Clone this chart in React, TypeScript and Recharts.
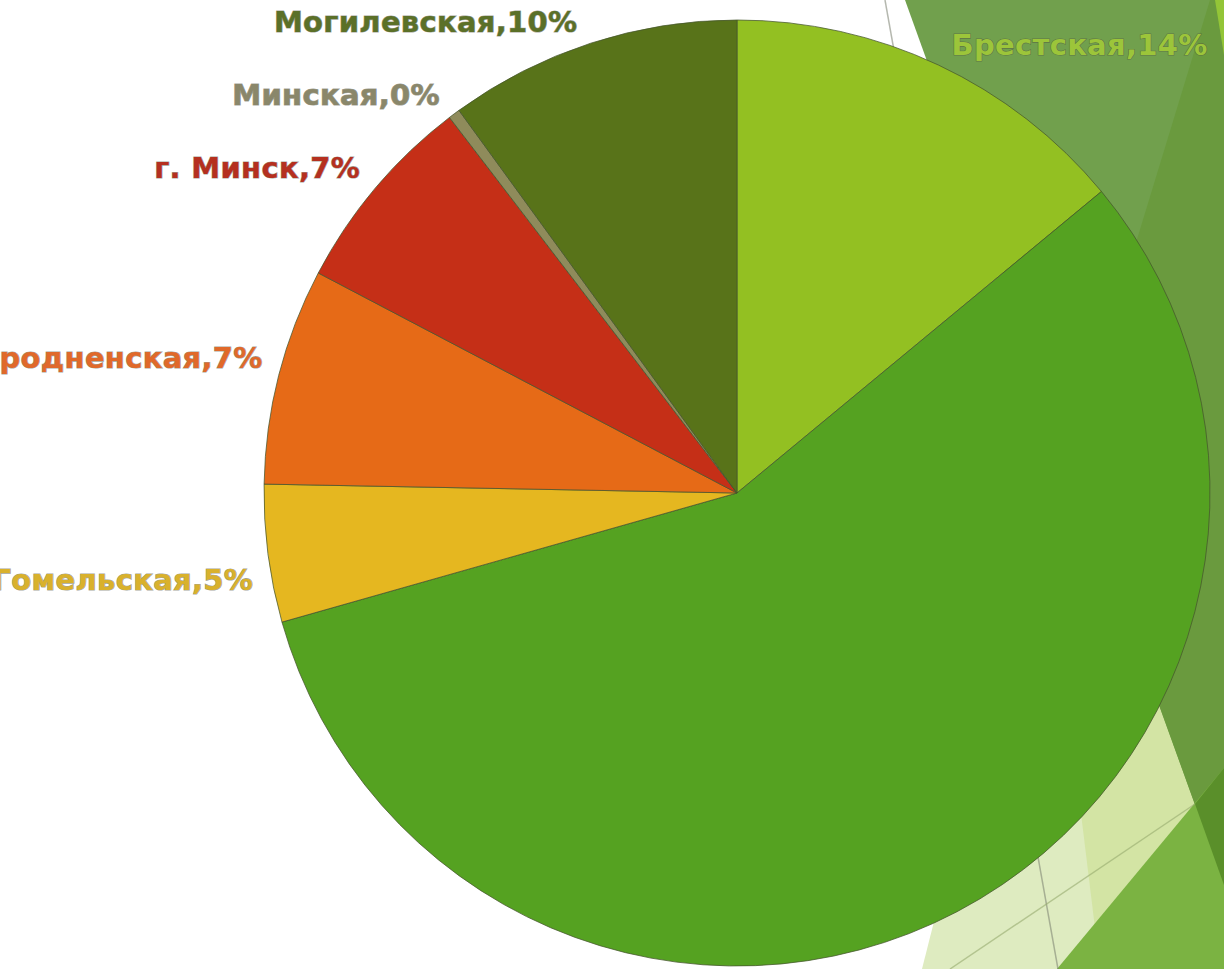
import React from 'react';
import { PieChart, Pie, Cell } from 'recharts';

const categories = ['Брестская', 'Витебская', 'Гомельская', 'Гродненская', 'г. Минск', 'Минская', 'Могилевская'];
const values = [14.0, 56.6, 4.7, 7.4, 6.9, 0.4, 10.0];
const hiddenLabels = ['Витебская'];

const sliceColors = ['#93C022', '#55A221', '#E5B720', '#E66A17', '#C52F17', '#8F8B5B', '#587319'];
const labelColors = ['#9CC53A', '#55A221', '#D9B12C', '#E0692A', '#B5301F', '#8A876A', '#5B7028'];

// manual label nudges (layout only), in px
const labelNudgeX = [3, 0, 9, 7, 3, 0, -6];
const labelNudgeY = [2, 0, 23, -11, -5, 0, 2];

const data = categories.map((name, i) => ({ name, value: values[i] }));

const W = 1224;
const H = 969;
const RAD = Math.PI / 180;

const renderLabel = (props: any) => {
  const { cx, cy, midAngle, outerRadius, percent, index, name } = props;
  if (hiddenLabels.includes(name)) return null;
  const r = outerRadius + 24;
  const x = cx + r * Math.cos(-midAngle * RAD) + labelNudgeX[index];
  const y = cy + r * Math.sin(-midAngle * RAD) + labelNudgeY[index];
  const right = x > cx;
  return (
    <text
      key={`lbl-${index}`}
      x={x}
      y={y}
      textAnchor={right ? 'start' : 'end'}
      dominantBaseline="central"
      fill={labelColors[index]}
      stroke="rgba(80,80,60,0.55)"
      strokeWidth={1.2}
      paintOrder="stroke"
      style={{ fontFamily: '"DejaVu Sans", sans-serif', fontWeight: 700, fontSize: 29, letterSpacing: 0.3 }}
    >
      {`${name},${Math.round(percent * 100)}%`}
    </text>
  );
};

const Background = () => (
  <svg width={W} height={H} style={{ position: 'absolute', left: 0, top: 0 }}>
    <rect x={0} y={0} width={W} height={H} fill="#FFFFFF" />
    <polygon points="922,969 990,700 1200,700 1224,969" fill="#DEEBC0" />
    <polygon points="1061,650 1224,650 1224,969 1100,969" fill="#D3E4A4" />
    <polygon points="905,0 1224,0 1224,885" fill="#71A04D" />
    <polygon points="1210,0 1224,0 1224,885 1070,459" fill="#6A9A3E" />
    <polygon points="1215,0 1224,0 1224,55" fill="#93C537" />
    <polygon points="1224,768 1224,969 1057,969" fill="#7BB342" />
    <polygon points="1195,804 1224,768 1224,885" fill="#5A8F2A" />
    <line x1={885} y1={0} x2={1058} y2={969} stroke="rgba(120,125,110,0.55)" strokeWidth={1.5} />
    <line x1={950} y1={969} x2={1195} y2={804} stroke="rgba(150,170,110,0.6)" strokeWidth={1.5} />
  </svg>
);

export default function App() {
  return (
    <div style={{ position: 'absolute', left: 0, top: 0, width: W, height: H, overflow: 'hidden', background: '#fff' }}>
      <Background />
      <div style={{ position: 'absolute', left: 0, top: 0 }}>
        <PieChart width={W} height={H} margin={{ top: 0, right: 0, bottom: 0, left: 0 }}>
          <Pie
            data={data}
            dataKey="value"
            nameKey="name"
            cx={737}
            cy={493}
            outerRadius={473}
            startAngle={90}
            endAngle={-270}
            stroke="rgba(70,85,45,0.75)"
            strokeWidth={1}
            label={renderLabel}
            labelLine={false}
            isAnimationActive={false}
          >
            {data.map((d, i) => (
              <Cell key={d.name} fill={sliceColors[i]} />
            ))}
          </Pie>
        </PieChart>
      </div>
    </div>
  );
}
